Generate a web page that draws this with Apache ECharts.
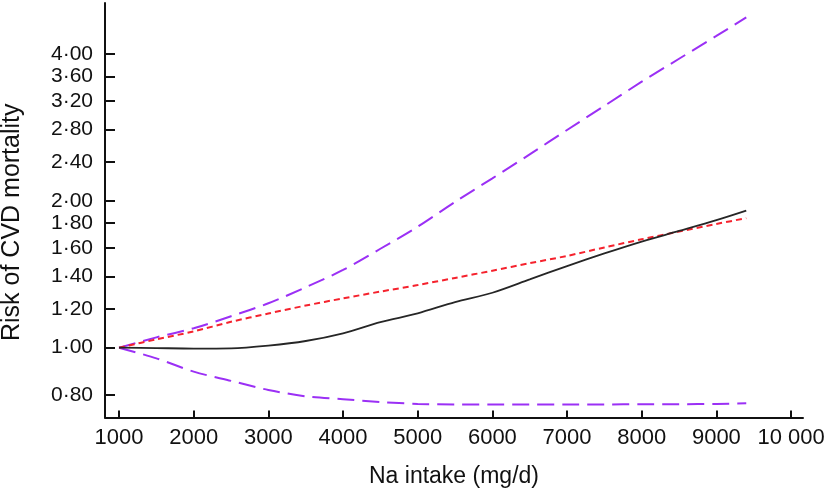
<!DOCTYPE html>
<html>
<head>
<meta charset="utf-8">
<script src="https://cdn.jsdelivr.net/npm/echarts@6/dist/echarts.min.js"></script>
<style>
  html, body { margin: 0; padding: 0; background: #fff; }
  #chart { width: 825px; height: 493px; }
</style>
</head>
<body>
<div id="chart"></div>
<script>
// Na intake (mg/d)
var naIntake = [1000, 1500, 2000, 2500, 3000, 3500, 4000, 4500, 5000, 5500, 6000, 6500, 7000, 7500, 8000, 8500, 9000, 9400];
// risk estimate (solid black)
var riskFit = [1.00, 0.998, 0.996, 0.997, 1.01, 1.032, 1.07, 1.128, 1.176, 1.24, 1.296, 1.38, 1.47, 1.56, 1.65, 1.735, 1.826, 1.91];
// linear model (red short dash)
var riskLinear = [1.00, 1.04, 1.08, 1.13, 1.175, 1.22, 1.262, 1.303, 1.344, 1.39, 1.438, 1.49, 1.542, 1.605, 1.668, 1.73, 1.793, 1.843];
// confidence limits (purple long dash)
var riskUpper = [1.00, 1.05, 1.096, 1.16, 1.233, 1.33, 1.443, 1.595, 1.77, 1.99, 2.224, 2.49, 2.794, 3.13, 3.509, 3.91, 4.354, 4.755];
var riskLower = [1.00, 0.951, 0.893, 0.855, 0.819, 0.795, 0.784, 0.774, 0.767, 0.765, 0.765, 0.765, 0.765, 0.765, 0.766, 0.766, 0.767, 0.769];

var xTicks = [1000, 2000, 3000, 4000, 5000, 6000, 7000, 8000, 9000, 10000];
var yTicks = [0.8, 1.0, 1.2, 1.4, 1.6, 1.8, 2.0, 2.4, 2.8, 3.2, 3.6, 4.0];

function pairs(ys) {
    var out = [];
    for (var i = 0; i < naIntake.length; i++) {
        out.push([naIntake[i], ys[i]]);
    }
    return out;
}

function lineSeries(name, ys, color, type, width) {
    return {
        name: name,
        type: 'line',
        data: pairs(ys),
        smooth: 0.3,
        showSymbol: false,
        lineStyle: {color: color, width: width, type: type}
    };
}

var chart = echarts.init(document.getElementById('chart'));
var font = 'Liberation Sans, Arial, Helvetica, sans-serif';

chart.setOption({
    animation: false,
    grid: {left: 105, right: 22, top: 3, bottom: 75.5, containLabel: false, outerBoundsMode: 'none'},
    xAxis: {
        type: 'value',
        min: 812,
        max: 10160,
        name: 'Na intake (mg/d)',
        nameLocation: 'middle',
        nameGap: 48,
        nameTextStyle: {fontFamily: font, fontSize: 23, color: '#111'},
        splitLine: {show: false},
        axisLine: {lineStyle: {color: '#111', width: 2}},
        axisTick: {inside: true, length: 7, lineStyle: {width: 2, color: '#111'}, customValues: xTicks},
        axisLabel: {
            fontFamily: font, fontSize: 22, color: '#111', margin: 9,
            customValues: xTicks,
            formatter: function (v) {
                return v >= 10000 ? '10 000' : String(v);
            }
        }
    },
    yAxis: {
        type: 'log',
        logBase: 10,
        min: 0.7193,
        max: 5.087,
        name: 'Risk of CVD mortality',
        nameLocation: 'middle',
        nameGap: 80,
        nameTextStyle: {fontFamily: font, fontSize: 25, color: '#111', padding: [0, 24, 0, 0]},
        splitLine: {show: false},
        minorTick: {show: false},
        axisLine: {show: true, lineStyle: {color: '#111', width: 2}},
        axisTick: {show: true, inside: true, length: 10, lineStyle: {width: 2, color: '#111'}, customValues: yTicks},
        axisLabel: {
            fontFamily: font, fontSize: 21, color: '#111', margin: 12,
            customValues: yTicks,
            formatter: function (v) {
                return v.toFixed(2).replace('.', '·');
            }
        }
    },
    series: [
        lineSeries('upper', riskUpper, '#9b30f5', [17, 8], 2),
        lineSeries('lower', riskLower, '#9b30f5', [17, 8], 2),
        lineSeries('linear', riskLinear, '#f5222d', [6, 4], 2),
        lineSeries('fit', riskFit, '#262626', 'solid', 1.8)
    ]
});
</script>
</body>
</html>
